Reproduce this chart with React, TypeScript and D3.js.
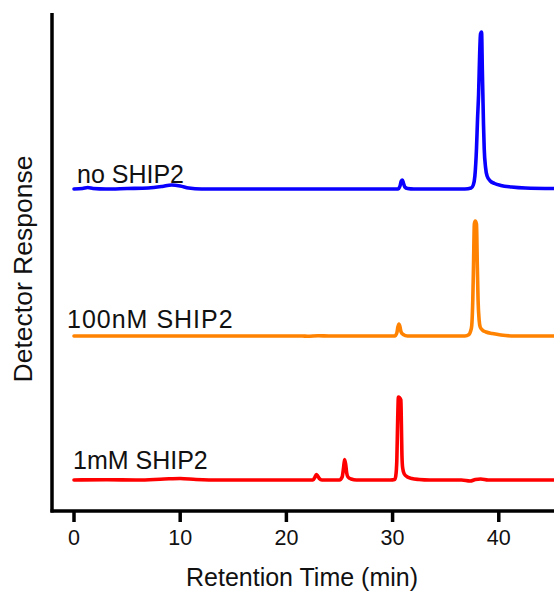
import React from "react";
import * as d3 from "d3";

type Pt = [number, number];

const seriesNames = ["no SHIP2", "100nM SHIP2", "1mM SHIP2"];
const seriesColors = ["#0a00ff", "#ff8200", "#ff0000"];
const seriesOffsets = [323, 176, 32];

const blueTrace: Pt[] = [
  [0, 0], [0.8, 0.5], [1.3, 1.5], [1.8, 0.5], [3, 0], [5, 0.5], [7, 1], [8.3, 2.5],
  [9.2, 4], [10, 3], [10.8, 1], [12, 0], [20, 0], [30.5, 0], [30.7, 3], [30.82, 8],
  [30.92, 9], [31.02, 6], [31.15, 2], [31.4, 0.5], [32, 0], [36.8, 0], [37.4, 1],
  [37.6, 4], [37.75, 13], [37.9, 40], [38.0, 70], [38.1, 95], [38.2, 135], [38.28, 155],
  [38.38, 157], [38.45, 120], [38.5, 95], [38.56, 65], [38.63, 40], [38.75, 22],
  [38.9, 13], [39.2, 8], [39.6, 5.5], [40.2, 3.5], [41.2, 2], [42.5, 1], [45.2, 0.5],
];

const orangeTrace: Pt[] = [
  [0, 0], [10, 0], [21.5, 0], [22, -0.3], [23, 0.2], [24, 0], [30.2, 0], [30.4, 3],
  [30.5, 9], [30.6, 12], [30.7, 9], [30.8, 4], [31, 1.5], [31.4, 0], [36.8, 0],
  [37.2, 1.5], [37.35, 5], [37.45, 10], [37.55, 35], [37.62, 70], [37.7, 112],
  [37.78, 115], [37.9, 112], [37.98, 70], [38.05, 36], [38.15, 16], [38.25, 9],
  [38.45, 6], [38.8, 4], [39.4, 2.5], [40.2, 1], [41.5, 0], [45.2, 0],
];

const redTrace: Pt[] = [
  [0, 0], [3, 0.3], [6, 0], [8.5, 1], [10, 1.5], [11.5, 0.5], [14, 0], [22.5, 0],
  [22.7, 3], [22.82, 5.5], [22.95, 4], [23.1, 1.5], [23.35, 0], [25.0, 0], [25.25, 3],
  [25.38, 12], [25.48, 20.5], [25.58, 16], [25.68, 7], [25.8, 3], [26.1, 1], [26.6, 0],
  [29.8, 0], [30.2, 0.5], [30.3, 4], [30.4, 20], [30.48, 60], [30.55, 83], [30.78, 80],
  [30.83, 55], [30.88, 25], [30.95, 12], [31.1, 6], [31.4, 3], [31.8, 1.5], [32.5, 0.5],
  [33.5, 0], [36.5, 0], [37.3, -1], [37.8, 0.5], [38.3, 1], [39, 0], [45.2, 0],
];

const traces = [blueTrace, orangeTrace, redTrace];
const xTicks = [0, 10, 20, 30, 40];
const xTitle = "Retention Time (min)";
const yTitle = "Detector Response";

const W = 554;
const H = 592;
const FONT = "'Liberation Sans', Arial, Helvetica, sans-serif";

export default function App() {
  const x = d3.scaleLinear().domain([0, 45.2]).range([74, 554]);
  const y = d3.scaleLinear().domain([0, 500]).range([512, 12]);
  const axisY = 511;
  const axisX = 52;

  const labelPos = [
    { x: 77, y: 183, ls: 0 },
    { x: 67, y: 328, ls: 1 },
    { x: 73, y: 469, ls: 0 },
  ];

  return (
    <svg
      width={W}
      height={H}
      style={{ position: "absolute", left: 0, top: 0, background: "#fff" }}
      fontFamily={FONT}
    >
      <rect x={0} y={0} width={W} height={H} fill="#fff" />
      {traces.map((tr, i) => {
        const line = d3
          .line<Pt>()
          .x((d) => x(d[0]))
          .y((d) => y(d[1] + seriesOffsets[i]))
          .curve(d3.curveMonotoneX);
        return (
          <path
            key={i}
            d={line(tr) || ""}
            fill="none"
            stroke={seriesColors[i]}
            strokeWidth={3.6}
            strokeLinejoin="round"
            strokeLinecap="round"
          />
        );
      })}
      {seriesNames.map((n, i) => (
        <text
          key={n}
          x={labelPos[i].x}
          y={labelPos[i].y}
          fontSize={25}
          letterSpacing={labelPos[i].ls}
          fill="#111"
        >
          {n}
        </text>
      ))}
      <line x1={axisX} x2={axisX} y1={13} y2={axisY + 1.5} stroke="#000" strokeWidth={3.5} />
      <line x1={axisX - 1.5} x2={W} y1={axisY} y2={axisY} stroke="#000" strokeWidth={3.5} />
      {xTicks.map((t) => (
        <g key={t}>
          <line x1={x(t)} x2={x(t)} y1={axisY} y2={522} stroke="#000" strokeWidth={3.5} />
          <text x={x(t)} y={545} fontSize={21.5} textAnchor="middle" fill="#111">
            {t}
          </text>
        </g>
      ))}
      <text x={302} y={586} fontSize={25} textAnchor="middle" fill="#111">
        {xTitle}
      </text>
      <text
        transform={`translate(32,269) rotate(-90)`}
        fontSize={26.5}
        textAnchor="middle"
        fill="#111"
      >
        {yTitle}
      </text>
    </svg>
  );
}
